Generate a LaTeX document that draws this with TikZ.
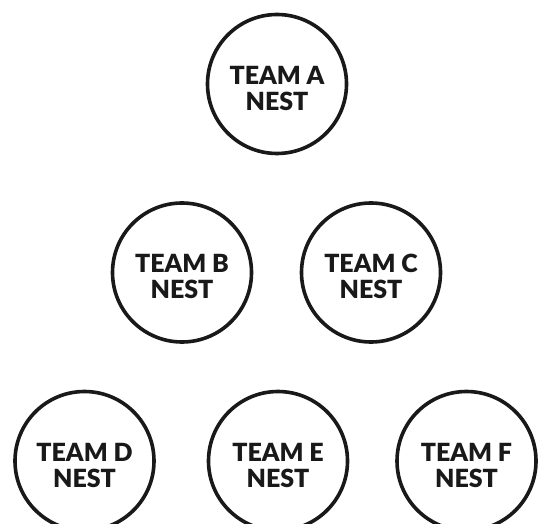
\documentclass[tikz,border=0pt]{standalone}
\usepackage{fontspec}
\setmainfont{Lato}[BoldFont={Lato Black}]
\newcommand{\nesttext}[1]{\raisebox{0pt}[\dimexpr\height+16bp\relax][\depth]{\begin{tabular}{@{}c@{}}TEAM #1\\NEST\end{tabular}}}
\begin{document}
\begin{tikzpicture}[x=1bp,y=-1bp,
  nest/.style={circle, draw=black!90, line width=3.6bp, minimum size=139bp, inner sep=0pt,
    font=\fontsize{25bp}{25.5bp}\selectfont\bfseries, text=black!90}]
\useasboundingbox (0,0) rectangle (546,524);
\clip (0,0) rectangle (546,524);
\node[nest] (a) at (277,84) {\nesttext{A}};
\node[nest] (b) at (182,272.5) {\nesttext{B}};
\node[nest] (c) at (371,272.5) {\nesttext{C}};
\node[nest] (d) at (84.5,461) {\nesttext{D}};
\node[nest] (e) at (278,461) {\nesttext{E}};
\node[nest] (f) at (466.5,461) {\nesttext{F}};
\end{tikzpicture}
\end{document}
